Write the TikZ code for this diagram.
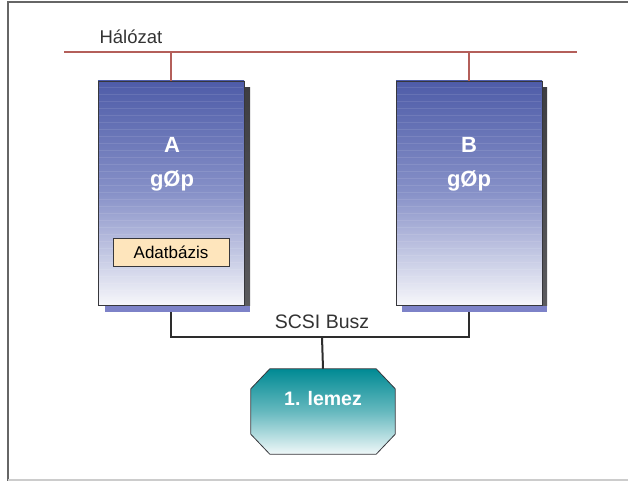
\documentclass[tikz,border=0pt]{standalone}
\usepackage{fontspec}
\setmainfont{Liberation Sans}
\usetikzlibrary{calc}
\definecolor{halozatPiros}{RGB}{180, 95, 90}
\definecolor{gepKekFent}  {RGB}{ 78, 92,168}
\definecolor{gepKekKozep} {RGB}{135,145,200}
\definecolor{gepKekLent}  {RGB}{246,246,250}
\definecolor{gepKeret}    {RGB}{ 55, 55, 60}
\definecolor{arnyekLila}  {RGB}{125,130,200}
\definecolor{arnyekSzurke}{RGB}{ 62, 62, 66}
\definecolor{adatSarga}   {RGB}{254,229,188}
\definecolor{lemezTeal}   {RGB}{  0,138,148}
\definecolor{buszSzurke}  {RGB}{ 45, 45, 45}

\begin{document}
\begin{tikzpicture}[x=1pt,y=-1pt,
    gep/.style={draw=gepKeret,line width=0.8pt,inner sep=0pt,
      minimum width=146pt,minimum height=224pt,
      top color=gepKekFent,bottom color=gepKekLent,middle color=gepKekKozep},
    arnyek/.style={fill=arnyekLila,inner sep=0pt,
      minimum width=145pt,minimum height=224pt},
    gepnev/.style={white,font=\fontsize{22}{24}\selectfont\bfseries,anchor=base},
    halo/.style={halozatPiros,line width=2pt},
    busz/.style={buszSzurke,line width=2pt}]
  \useasboundingbox (0,0) rectangle (628,481);

  % keret
  \draw[gray!80!black,line width=1.2pt] (8,481) -- (8,2) -- (628,2);
  \draw[gray!40,line width=1.2pt] (8,480) -- (628,480);

  % Halozat
  \coordinate (haloBal) at (64,52);
  \coordinate (haloJobb) at (577,52);
  \draw[halo] (haloBal) -- (haloJobb);
  \node[anchor=base west,font=\fontsize{18.5}{21}\selectfont,black!80] (halozat)
    at (96,44) {Hálózat};

  % gepek arnyekkal
  \node[arnyek] (arnyekA) at (177.5,200) {};
  \node[arnyek] (arnyekB) at (474.5,200) {};
  \foreach \g in {A,B}{
    \fill[top color=arnyekSzurke,bottom color=arnyekSzurke!85!white]
      (arnyek\g.north east) ++(-6,0) rectangle ($(arnyek\g.south east)+(0,-7)$);
  }
  \node[gep] (gepA) at (171,193) {};
  \node[gep] (gepB) at (469,193) {};
  \foreach \g in {A,B}{
    \foreach \y in {88,95,...,298}{
      \draw[white,opacity=0.1,line width=0.8pt]
        ($(gep\g.north west)+(1,\y-81)$) -- ($(gep\g.north east)+(-1,\y-81)$);
    }
    \draw[halo,line width=1.5pt] (gep\g.north) -- (gep\g.north |- haloBal);
  }
  \node[gepnev] (nevA) at (172,153) {A};
  \node[gepnev] (tipusA) at (172,186) {gØp};
  \node[gepnev] (nevB) at (469,153) {B};
  \node[gepnev] (tipusB) at (469,186) {gØp};

  % Adatbazis
  \node[draw=gepKeret,fill=adatSarga,line width=0.8pt,inner sep=0pt,
    minimum width=116pt,minimum height=28pt,font=\fontsize{17}{20}\selectfont]
    (adatbazis) at (171,252) {Adatbázis};

  % SCSI busz
  \coordinate (buszKozep) at (322,337);
  \draw[busz] (gepA.south |- arnyekA.south) -- (gepA.south |- buszKozep)
    -- (gepB.south |- buszKozep) -- (gepB.south |- arnyekB.south);
  \node[anchor=base,font=\fontsize{19.5}{22}\selectfont,black!80] (scsi)
    at (322,328) {SCSI Busz};

  % lemez (levagott sarkok)
  \node[inner sep=0pt,minimum width=144pt,minimum height=85pt]
    (lemez) at (323,411.5) {};
  \draw[busz] (buszKozep) -- (lemez.north);
  \path[draw=gepKeret,line width=0.8pt,
    top color=lemezTeal,bottom color=white!94!lemezTeal,middle color=lemezTeal!60]
    ($(lemez.north west)+(19,0)$) -- ($(lemez.north east)+(-19,0)$)
    -- ($(lemez.north east)+(0,20)$) -- ($(lemez.south east)+(0,-20)$)
    -- ($(lemez.south east)+(-19,0)$) -- ($(lemez.south west)+(19,0)$)
    -- ($(lemez.south west)+(0,-20)$) -- ($(lemez.north west)+(0,20)$) -- cycle;
  \node[anchor=base,white,font=\fontsize{19.5}{22}\selectfont\bfseries]
    (lemezfelirat) at (323,405) {1. lemez};
\end{tikzpicture}
\end{document}
